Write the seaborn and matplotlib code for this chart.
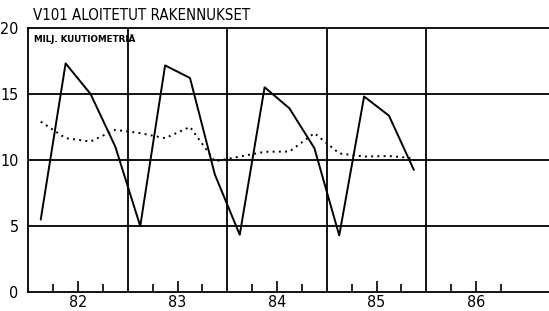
import matplotlib
matplotlib.use("Agg")
import matplotlib.pyplot as plt
import seaborn as sns
import pandas as pd
import numpy as np
from matplotlib import font_manager

years = [82, 83, 84, 85]
quarters = [1, 2, 3, 4]
started = [5.5, 17.3, 15.0, 11.0,
           5.0, 17.15, 16.2, 8.9,
           4.35, 15.5, 13.9, 10.9,
           4.3, 14.8, 13.35, 9.25]
trend = [12.9, 11.65, 11.4, 12.28,
         12.03, 11.65, 12.5, 9.9,
         10.26, 10.62, 10.64, 12.03,
         10.5, 10.26, 10.3, 10.13]
xtick_labels = ["82", "83", "84", "85", "86"]
yticks = [0, 5, 10, 15, 20]

title = "V101 ALOITETUT RAKENNUKSET"
unit = "MILJ. KUUTIOMETRIÄ"

ttf = font_manager.fontManager.ttflist
names = {f.name for f in ttf}
condensed = any(f.name == "DejaVu Sans" and "ondensed" in f.fname for f in ttf)
if "Liberation Sans Narrow" in names:
    fam, stretch = "Liberation Sans Narrow", "normal"
elif condensed:
    fam, stretch = "DejaVu Sans", "condensed"
else:
    fam, stretch = "Liberation Sans", "normal"

sns.set_theme(style="white")
plt.rcParams["font.family"] = [fam, "DejaVu Sans"]
plt.rcParams["font.stretch"] = stretch
plt.rcParams["text.color"] = "black"
plt.rcParams["xtick.color"] = "black"
plt.rcParams["ytick.color"] = "black"
plt.rcParams["xtick.labelcolor"] = "black"
plt.rcParams["ytick.labelcolor"] = "black"

t = [y + (q - 0.5) / 4 for y in years for q in quarters]
df = pd.DataFrame({"t": t, "started": started, "trend": trend})

fig = plt.figure(figsize=(5.49, 3.11), dpi=100)
W = 5.3 * 99.5 / 549
ax = fig.add_axes([28.3 / 549, (311 - 292.3) / 311, W, (292.3 - 27.7) / 311])

sns.lineplot(data=df, x="t", y="started", ax=ax, color="black", lw=1.4)
sns.lineplot(data=df, x="t", y="trend", ax=ax, color="black", lw=1.4,
             linestyle=(0, (1, 2.2)))

ax.set_xlim(82, 87.3)
ax.set_ylim(0, 20)
ax.set_xlabel("")
ax.set_ylabel("")

for yv in [5, 10, 15]:
    ax.axhline(yv, color="black", lw=1.3, zorder=0)
for xv in [83, 84, 85, 86]:
    ax.axvline(xv, color="black", lw=1.3, zorder=0)

ax.set_xticks([y + 0.5 for y in range(82, 87)])
ax.set_xticklabels(xtick_labels)
ax.set_xticks([y + d for y in range(82, 87) for d in (0.25, 0.75)], minor=True)
ax.tick_params(axis="x", which="major", direction="in", length=8, width=1.2,
               labelsize=11.5, pad=2, color="black", bottom=True)
ax.tick_params(axis="x", which="minor", direction="in", length=5.5, width=1.2,
               bottom=True, color="black")
ax.set_yticks(yticks)
ax.tick_params(axis="y", direction="in", length=0, labelsize=11.5, pad=7)

for s in ax.spines.values():
    s.set_color("black")
    s.set_linewidth(1.3)
ax.spines["right"].set_visible(False)

fig.text(33 / 549, 1 - 15 / 311, title, fontsize=10.8, va="center", ha="left",
         color="black")
ax.text(0.01, 0.975, unit, transform=ax.transAxes, fontsize=6.3,
        fontweight="bold", va="top", ha="left", family="DejaVu Sans",
        fontstretch="normal", color="black")

fig.savefig("out.png", dpi=100)
